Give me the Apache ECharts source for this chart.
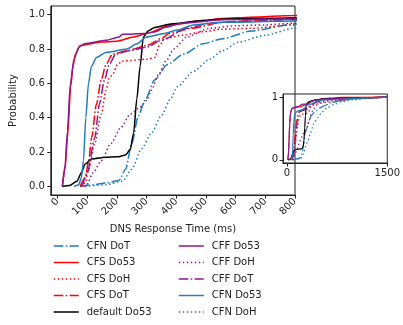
<!DOCTYPE html>
<html>
<head>
<meta charset="utf-8">
<script src="https://cdn.jsdelivr.net/npm/echarts@6/dist/echarts.min.js"></script>
<style>
	html, body { margin: 0; padding: 0; background: #fff; }
	#chart { width: 403px; height: 325px; }
</style>
</head>
<body>
<div id="chart"></div>
<script>
//曲线数据 [响应时间(ms), 累计概率]
var cfnDoT = [[76, 0], [120, 0.01], [163, 0.02], [207, 0.035], [229, 0.1], [250, 0.25], [272, 0.41], [294, 0.5], [327, 0.62], [370, 0.71], [425, 0.77], [490, 0.83], [556, 0.86], [653, 0.905], [795, 0.945], [1000, 0.975], [1200, 0.99], [1500, 1]];
var cfsDo53 = [[16, 0], [25, 0.1], [33, 0.28], [44, 0.58], [52, 0.7], [60, 0.77], [76, 0.82], [147, 0.84], [200, 0.845], [256, 0.87], [300, 0.89], [381, 0.94], [490, 0.965], [556, 0.977], [650, 0.985], [795, 0.995], [1500, 1]];
var cfsDoH = [[78, 0], [93, 0.02], [103, 0.09], [125, 0.25], [147, 0.42], [163, 0.56], [174, 0.63], [185, 0.65], [202, 0.71], [218, 0.73], [300, 0.74], [327, 0.75], [343, 0.82], [360, 0.86], [420, 0.88], [490, 0.9], [550, 0.915], [650, 0.92], [795, 0.94], [1000, 0.97], [1500, 1]];
var cfsDoT = [[76, 0], [93, 0.05], [105, 0.15], [114, 0.28], [131, 0.48], [147, 0.62], [163, 0.71], [185, 0.77], [234, 0.79], [300, 0.82], [349, 0.86], [376, 0.89], [450, 0.92], [556, 0.955], [700, 0.97], [795, 0.98], [1000, 0.99], [1500, 1]];
var defDo53 = [[16, 0], [40, 0.005], [65, 0.03], [80, 0.08], [93, 0.13], [114, 0.16], [163, 0.17], [202, 0.172], [229, 0.183], [245, 0.216], [256, 0.31], [267, 0.51], [278, 0.7], [289, 0.87], [305, 0.905], [327, 0.925], [381, 0.945], [490, 0.965], [556, 0.975], [795, 0.98], [1000, 0.99], [1500, 1]];
var cffDo53 = [[16, 0], [25, 0.12], [33, 0.32], [43, 0.6], [55, 0.74], [71, 0.81], [90, 0.83], [163, 0.85], [207, 0.87], [218, 0.885], [294, 0.89], [330, 0.9], [360, 0.925], [420, 0.95], [556, 0.97], [795, 0.975], [1000, 0.985], [1500, 1]];
var cffDoH = [[88, 0], [98, 0.01], [120, 0.08], [147, 0.15], [180, 0.25], [212, 0.34], [245, 0.42], [278, 0.46], [300, 0.5], [316, 0.56], [340, 0.65], [365, 0.73], [392, 0.8], [435, 0.87], [512, 0.92], [600, 0.935], [700, 0.94], [795, 0.95], [1000, 0.975], [1500, 1]];
var cffDoT = [[82, 0], [100, 0.08], [125, 0.28], [141, 0.48], [158, 0.62], [174, 0.71], [196, 0.77], [240, 0.79], [300, 0.81], [349, 0.85], [436, 0.92], [512, 0.95], [600, 0.96], [795, 0.97], [1000, 0.985], [1500, 1]];
var cfnDo53 = [[55, 0], [71, 0.01], [80, 0.05], [87, 0.15], [95, 0.4], [104, 0.6], [114, 0.7], [131, 0.75], [163, 0.78], [234, 0.8], [267, 0.83], [300, 0.87], [360, 0.89], [403, 0.91], [458, 0.94], [556, 0.955], [795, 0.962], [1000, 0.98], [1500, 1]];
var cfnDoH = [[93, 0], [163, 0.01], [218, 0.03], [250, 0.1], [283, 0.22], [316, 0.31], [349, 0.41], [381, 0.51], [403, 0.58], [458, 0.67], [512, 0.74], [556, 0.79], [610, 0.84], [700, 0.88], [795, 0.92], [1000, 0.96], [1200, 0.985], [1500, 1]];

//刻度
var mainXTicks = [0, 100, 200, 300, 400, 500, 600, 700, 800];
var mainYTicks = [0, 0.2, 0.4, 0.6, 0.8, 1.0];
var insetXTicks = [0, 1500];
var insetYTicks = [0, 1];

var legendLeft = ['CFN DoT', 'CFS Do53', 'CFS DoH', 'CFS DoT', 'default Do53'];
var legendRight = ['CFF Do53', 'CFF DoH', 'CFF DoT', 'CFN Do53', 'CFN DoH'];

var BLUE = '#1f7cbd';
var RED = '#ff0000';
var PURPLE = '#8a1a90';
var BLACK = '#000000';
var DASHDOT = [9.6, 2.4, 1.5, 2.4];
var DOTTED = [1.5, 2.5];

var curves = [
	{ name: 'CFN DoT', data: cfnDoT, color: BLUE, type: DASHDOT },
	{ name: 'CFS Do53', data: cfsDo53, color: RED, type: 'solid' },
	{ name: 'CFS DoH', data: cfsDoH, color: RED, type: DOTTED },
	{ name: 'CFS DoT', data: cfsDoT, color: RED, type: DASHDOT },
	{ name: 'default Do53', data: defDo53, color: BLACK, type: 'solid' },
	{ name: 'CFF Do53', data: cffDo53, color: PURPLE, type: 'solid' },
	{ name: 'CFF DoH', data: cffDoH, color: PURPLE, type: DOTTED },
	{ name: 'CFF DoT', data: cffDoT, color: PURPLE, type: DASHDOT },
	{ name: 'CFN Do53', data: cfnDo53, color: BLUE, type: 'solid' },
	{ name: 'CFN DoH', data: cfnDoH, color: BLUE, type: DOTTED }
];

var FONT = 'DejaVu Sans';
var AXIS_COLOR = '#222';

var makeAxis = function(extra) {
	var ax = {
		type: 'value',
		axisLine: { show: true, onZero: false, lineStyle: { color: AXIS_COLOR, width: 1 } },
		axisTick: { show: true, inside: false, length: 3.5, lineStyle: { color: AXIS_COLOR, width: 1 } },
		axisLabel: { color: '#222', fontFamily: FONT, fontSize: 10, showMinLabel: true, showMaxLabel: true },
		splitLine: { show: false }
	};
	for (var k in extra) {
		if (k === 'axisLabel' || k === 'axisTick') {
			for (var j in extra[k]) ax[k][j] = extra[k][j];
		} else {
			ax[k] = extra[k];
		}
	}
	return ax;
};

var series = [];
for (var g = 0; g < 2; g++) {
	for (var i = 0; i < curves.length; i++) {
		var c = curves[i];
		series.push({
			name: c.name,
			type: 'line',
			xAxisIndex: g,
			yAxisIndex: g,
			data: c.data,
			symbol: 'none',
			smooth: 0.25,
			smoothMonotone: 'x',
			clip: true,
			animation: false,
			color: c.color,
			lineStyle: { color: c.color, width: g === 0 ? 1.5 : 1.2, type: c.type }
		});
	}
}

//图例（两列）
var legendBase = function(left, names) {
	var items = [];
	for (var i = 0; i < names.length; i++) {
		for (var j = 0; j < curves.length; j++) {
			if (curves[j].name === names[i]) {
				items.push({
					name: names[i],
					itemStyle: { opacity: 0 },
					lineStyle: { color: curves[j].color, width: 1.5, type: curves[j].type }
				});
			}
		}
	}
	return {
		left: left,
		top: 241,
		orient: 'vertical',
		padding: 0,
		itemWidth: 25,
		itemHeight: 10,
		itemGap: 6.5,
		selectedMode: false,
		itemStyle: { opacity: 0 },
		data: items,
		textStyle: { fontFamily: FONT, fontSize: 10, color: '#222', padding: [0, 0, 0, 3] }
	};
};

var option = {
	backgroundColor: '#fff',
	animation: false,
	legend: [legendBase(53, legendLeft), legendBase(178, legendRight)],
	grid: [
		{ left: 43, right: 108, top: 6, bottom: 130, show: true, borderColor: AXIS_COLOR, borderWidth: 1, backgroundColor: 'transparent' },
		{ left: 283, right: 10, top: 94, bottom: 162, show: true, borderColor: AXIS_COLOR, borderWidth: 1, backgroundColor: 'transparent' }
	],
	xAxis: [
		makeAxis({
			gridIndex: 0, min: -23, max: 800,
			name: 'DNS Response Time (ms)', nameLocation: 'middle', nameGap: 29,
			nameTextStyle: { fontFamily: FONT, fontSize: 10, color: '#222' },
			axisTick: { customValues: mainXTicks },
			axisLabel: { customValues: mainXTicks, rotate: 45, margin: 5 }
		}),
		makeAxis({
			gridIndex: 1, min: -57, max: 1500,
			axisTick: { customValues: insetXTicks },
			axisLabel: { customValues: insetXTicks, margin: 5, formatter: function(v) { return String(v); } }
		})
	],
	yAxis: [
		makeAxis({
			gridIndex: 0, min: -0.05, max: 1.05,
			name: 'Probability', nameLocation: 'middle', nameGap: 28, nameRotate: 90,
			nameTextStyle: { fontFamily: FONT, fontSize: 10, color: '#222' },
			axisTick: { customValues: mainYTicks },
			axisLabel: { customValues: mainYTicks, margin: 6, formatter: function(v) { return v.toFixed(1); } }
		}),
		makeAxis({
			gridIndex: 1, min: -0.05, max: 1.05,
			axisTick: { customValues: insetYTicks },
			axisLabel: { customValues: insetYTicks, margin: 5, formatter: function(v) { return String(v); } }
		})
	],
	series: series
};

var chart = echarts.init(document.getElementById('chart'), null, { renderer: 'canvas' });
chart.setOption(option);
</script>
</body>
</html>
